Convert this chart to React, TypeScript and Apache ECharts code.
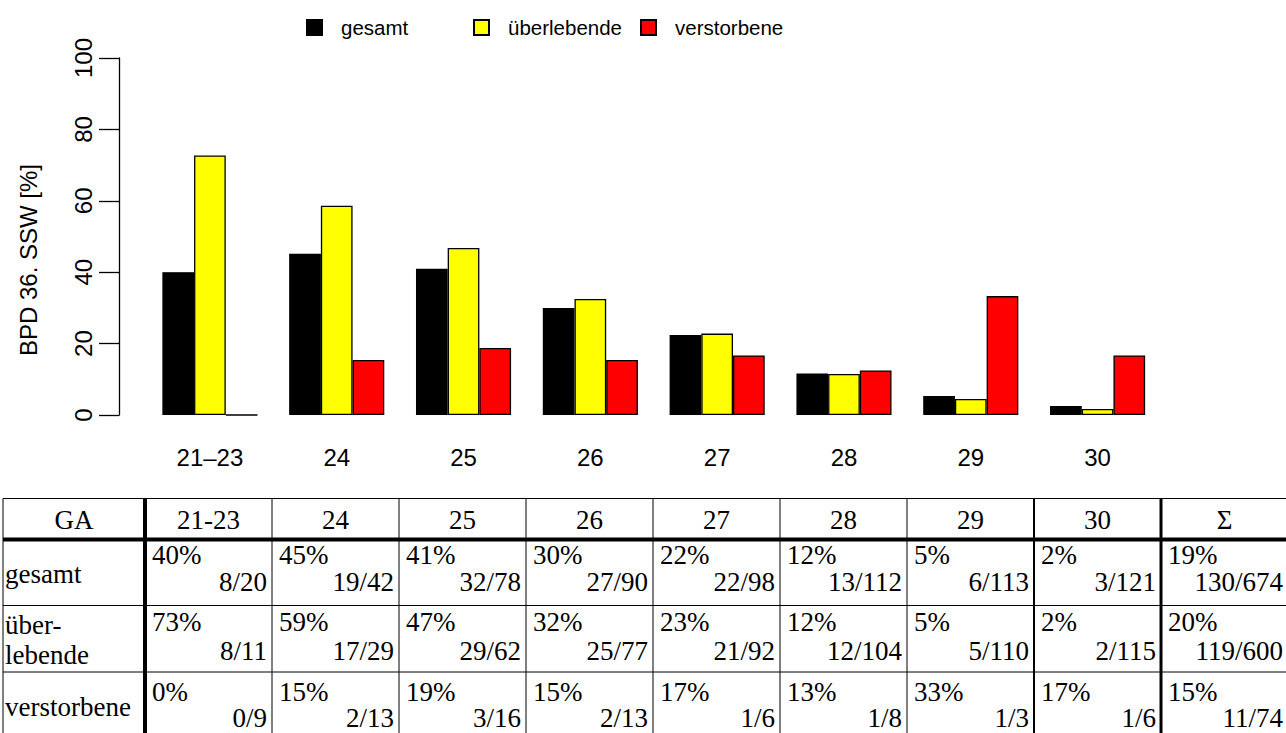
import React, { useEffect, useRef } from 'react';
import * as echarts from 'echarts';

// ---- chart data ----
const categories = ['21–23', '24', '25', '26', '27', '28', '29', '30'];
const seriesNames = ['gesamt', 'überlebende', 'verstorbene'];
const gesamtPct = [40.0, 45.2, 41.0, 30.0, 22.4, 11.6, 5.3, 2.5];
const ueberlebendePct = [72.7, 58.6, 46.8, 32.5, 22.8, 11.5, 4.5, 1.7];
const verstorbenePct = [0, 15.4, 18.8, 15.4, 16.7, 12.5, 33.3, 16.7];
const yAxisTitle = 'BPD 36. SSW [%]';

// ---- table data ----
const tableHeader = ['GA', '21-23', '24', '25', '26', '27', '28', '29', '30', 'Σ'];
const rowLabels = ['gesamt', 'über-\nlebende', 'verstorbene'];
const gesamtTabPct = [40, 45, 41, 30, 22, 12, 5, 2, 19];
const gesamtNum = [8, 19, 32, 27, 22, 13, 6, 3, 130];
const gesamtDen = [20, 42, 78, 90, 98, 112, 113, 121, 674];
const uebTabPct = [73, 59, 47, 32, 23, 12, 5, 2, 20];
const uebNum = [8, 17, 29, 25, 21, 12, 5, 2, 119];
const uebDen = [11, 29, 62, 77, 92, 104, 110, 115, 600];
const verTabPct = [0, 15, 19, 15, 17, 13, 33, 17, 15];
const verNum = [0, 2, 3, 2, 1, 1, 1, 1, 11];
const verDen = [9, 13, 16, 13, 6, 8, 3, 6, 74];

const colors = ['#000000', '#ffff00', '#ff0000'];

export default function App() {
  const ref = useRef<HTMLDivElement>(null);
  useEffect(() => {
    document.body.style.margin = '0';
    const chart = echarts.init(ref.current!, null, { renderer: 'svg' });
    const sans = 'Liberation Sans, Arial, Helvetica, sans-serif';
    const serif = 'Liberation Serif, Times New Roman, serif';

    // layout of table
    const colEdges = [3, 145, 272, 399, 526, 653, 780, 907, 1034, 1161, 1288];
    const vWidths = [1, 4, 1, 1, 1, 1, 1, 1, 2, 3, 1];
    const rowEdges = [498.5, 539.5, 605.5, 672, 739];
    const hWidths = [1, 4, 1, 1, 1];
    const pctOffsets = [15.5, 16, 19.5];
    const fracOffsets = [42, 45, 46];
    const graphics: any[] = [];
    rowEdges.forEach((y, i) => {
      graphics.push({ type: 'line', shape: { x1: colEdges[0], y1: y, x2: colEdges[colEdges.length - 1], y2: y }, style: { stroke: '#000', lineWidth: hWidths[i] } });
    });
    colEdges.forEach((x, i) => {
      graphics.push({ type: 'line', shape: { x1: x, y1: rowEdges[0], x2: x, y2: rowEdges[rowEdges.length - 1] }, style: { stroke: '#000', lineWidth: vWidths[i] } });
    });
    const fs = 27;
    tableHeader.forEach((h, i) => {
      graphics.push({ type: 'text', x: (colEdges[i] + colEdges[i + 1]) / 2, y: (rowEdges[0] + rowEdges[1]) / 2 + 1, style: { text: h, font: `${fs}px ${serif}`, fill: '#000', align: 'center', verticalAlign: 'middle' } });
    });
    const rowsData = [
      [gesamtTabPct, gesamtNum, gesamtDen],
      [uebTabPct, uebNum, uebDen],
      [verTabPct, verNum, verDen],
    ];
    rowLabels.forEach((lab, r) => {
      const top = rowEdges[r + 1];
      const bot = rowEdges[r + 2];
      graphics.push({ type: 'text', x: 5, y: (top + bot) / 2 + 1, style: { text: lab, font: `${fs}px ${serif}`, fill: '#000', align: 'left', verticalAlign: 'middle', lineHeight: 30 } });
      const [pct, num, den] = rowsData[r];
      pct.forEach((p, c) => {
        const left = colEdges[c + 1];
        const right = colEdges[c + 2];
        graphics.push({ type: 'text', x: left + 7, y: top + pctOffsets[r], style: { text: `${p}%`, font: `${fs}px ${serif}`, fill: '#000', align: 'left', verticalAlign: 'middle' } });
        graphics.push({ type: 'text', x: right - 5, y: top + fracOffsets[r], style: { text: `${num[c]}/${den[c]}`, font: `${fs}px ${serif}`, fill: '#000', align: 'right', verticalAlign: 'middle' } });
      });
    });
    // y axis title
    graphics.push({ type: 'text', x: 28, y: 260, rotation: Math.PI / 2, style: { text: yAxisTitle, font: `24px ${sans}`, fill: '#000', align: 'center', verticalAlign: 'middle' } });

    const legendX = [306, 473, 640];
    const seriesData = [gesamtPct, ueberlebendePct, verstorbenePct];

    chart.setOption({
      animation: false,
      backgroundColor: '#ffffff',
      textStyle: { fontFamily: sans },
      legend: seriesNames.map((n, i) => ({
        data: [n],
        left: legendX[i],
        top: 17,
        padding: 0,
        itemWidth: 15,
        itemHeight: 15,
        icon: 'rect',
        textStyle: { fontSize: 20.5, color: '#000', fontFamily: sans, padding: i === 0 ? [0, 0, 5, 14] : [0, 0, 0, 14] },
      })),
      grid: { left: 146.5, right: 125, top: 58, bottom: 318, containLabel: false },
      xAxis: {
        type: 'category',
        data: categories,
        axisLine: { show: false },
        axisTick: { show: false },
        axisLabel: { fontSize: 24, color: '#000', margin: 30, fontFamily: sans, interval: 0 },
      },
      yAxis: {
        type: 'value',
        min: 0,
        max: 100,
        interval: 20,
        offset: 27.5,
        axisLine: { show: true, lineStyle: { color: '#000', width: 1.3 } },
        axisTick: { show: true, length: 20, lineStyle: { color: '#000', width: 1.3 } },
        splitLine: { show: false },
        axisLabel: { fontSize: 24, color: '#000', rotate: 90, margin: 24, fontFamily: sans },
      },
      series: seriesNames.map((n, i) => ({
        name: n,
        type: 'bar',
        data: seriesData[i],
        barWidth: 31.7,
        barGap: '0%',
        itemStyle: { color: colors[i], borderColor: '#000', borderWidth: 1.3 },
      })),
      graphic: graphics,
    });
    return () => chart.dispose();
  }, []);
  return <div ref={ref} style={{ width: 1286, height: 733 }} />;
}
